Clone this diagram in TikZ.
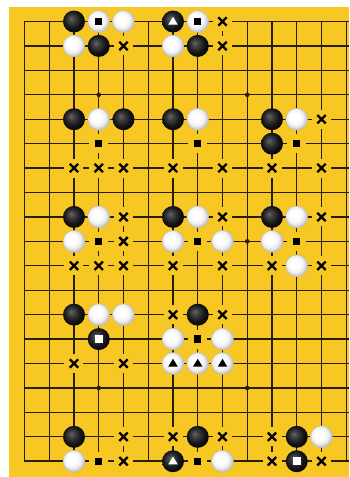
\documentclass[tikz,border=0pt]{standalone}
\definecolor{board}{RGB}{247,200,36}
\definecolor{gridc}{RGB}{40,28,10}
\pgfdeclareradialshading{bstone}{\pgfpoint{-7bp}{7bp}}{color(0bp)=(black!60); color(7bp)=(black!74); color(18bp)=(black!90); color(25bp)=(black!96); color(50bp)=(black)}
\pgfdeclareradialshading{wstone}{\pgfpoint{-6bp}{6bp}}{color(0bp)=(white); color(10bp)=(white); color(19bp)=(black!6); color(25bp)=(black!22); color(50bp)=(black!22)}
\begin{document}
\begin{tikzpicture}[x=24.75pt,y=-24.43pt,
  gridline/.style={gridc, line width=1.3pt},
  edgeline/.style={gridc, line width=1.7pt, line join=miter},
  clearbox/.style={fill=board, draw=none, minimum size=19pt, inner sep=0pt},
  blackstone/.style={shading=bstone},
  whitestone/.style={shading=wstone, draw=black!28, line width=0.3pt},
  xmark/.style={line width=2.3pt, black},
  starpt/.style={fill=gridc},
  markfill/.style={fill=black},
  markwhite/.style={fill=white},
]
% page and board
\useasboundingbox (-24.5pt,21.5pt) rectangle (324.5pt,-455.5pt);
\fill[white] (-24.5pt,21.5pt) rectangle (324.5pt,-455.5pt);
\fill[board] (-15pt,14.5pt) rectangle (324.5pt,-455.5pt);
% grid
\foreach \r in {1,...,17} \draw[gridline] (0,\r) -- (13.111,\r);
\foreach \c in {1,...,13} \draw[gridline] (\c,0) -- (\c,18);
\draw[edgeline] (13.111,0) -- (0,0) -- (0,18) -- (13.111,18);
% star points
\foreach \c/\r in {3/3,9/3,3/9,9/9,3/15,9/15} \fill[starpt] (\c,\r) circle[radius=2.3pt];
% marks on empty points
\foreach \c/\r in {4/1,8/0,8/1,2/6,3/6,4/6,6/6,8/6,12/4,10/6,12/6,4/8,4/9,2/10,3/10,4/10,8/8,6/10,8/10,12/8,10/10,12/10,2/14,4/14,6/12,8/12,4/17,4/18,6/17,8/17,10/17,10/18,12/18,3/5,7/5,11/5,3/9,7/9,11/9,7/13,3/18,7/18}
  \node[clearbox] at (\c,\r) {};
\foreach \c/\r in {4/1,8/0,8/1,2/6,3/6,4/6,6/6,8/6,12/4,10/6,12/6,4/8,4/9,2/10,3/10,4/10,8/8,6/10,8/10,12/8,10/10,12/10,2/14,4/14,6/12,8/12,4/17,4/18,6/17,8/17,10/17,10/18,12/18}
  \draw[xmark, shift={(\c,\r)}] (-4.2pt,-4.2pt) -- (4.2pt,4.2pt) (-4.2pt,4.2pt) -- (4.2pt,-4.2pt);
\foreach \c/\r in {3/5,7/5,11/5,3/9,7/9,11/9,7/13,3/18,7/18}
  \fill[markfill, shift={(\c,\r)}] (-3.7pt,-3.7pt) rectangle (3.7pt,3.7pt);
% stones
\foreach \c/\r in {2/0,3/1,6/0,7/1,2/4,4/4,6/4,10/4,10/5,2/8,6/8,10/8,2/12,3/13,7/12,2/17,7/17,6/18,11/17,11/18}
  \shade[blackstone] (\c,\r) circle[radius=11pt];
\foreach \c/\r in {3/0,4/0,2/1,7/0,6/1,3/4,7/4,11/4,3/8,2/9,7/8,6/9,8/9,11/8,10/9,11/10,3/12,4/12,6/13,8/13,6/14,7/14,8/14,2/18,8/18,12/17}
  \shade[whitestone] (\c,\r) circle[radius=11pt];
% marks on stones
\foreach \c/\r in {3/0,7/0}
  \fill[markfill, shift={(\c,\r)}] (-3.7pt,-3.7pt) rectangle (3.7pt,3.7pt);
\foreach \c/\r in {3/13,11/18}
  \fill[markwhite, shift={(\c,\r)}] (-3.8pt,-3.8pt) rectangle (3.8pt,3.8pt);
\foreach \c/\r in {6/0,6/18}
  \fill[markwhite, shift={(\c,\r)}] (-4.8pt,-3.2pt) -- (4.8pt,-3.2pt) -- (0pt,4.8pt) -- cycle;
\foreach \c/\r in {6/14,7/14,8/14}
  \fill[markfill, shift={(\c,\r)}] (-4.8pt,-3.2pt) -- (4.8pt,-3.2pt) -- (0pt,4.8pt) -- cycle;
\end{tikzpicture}
\end{document}
